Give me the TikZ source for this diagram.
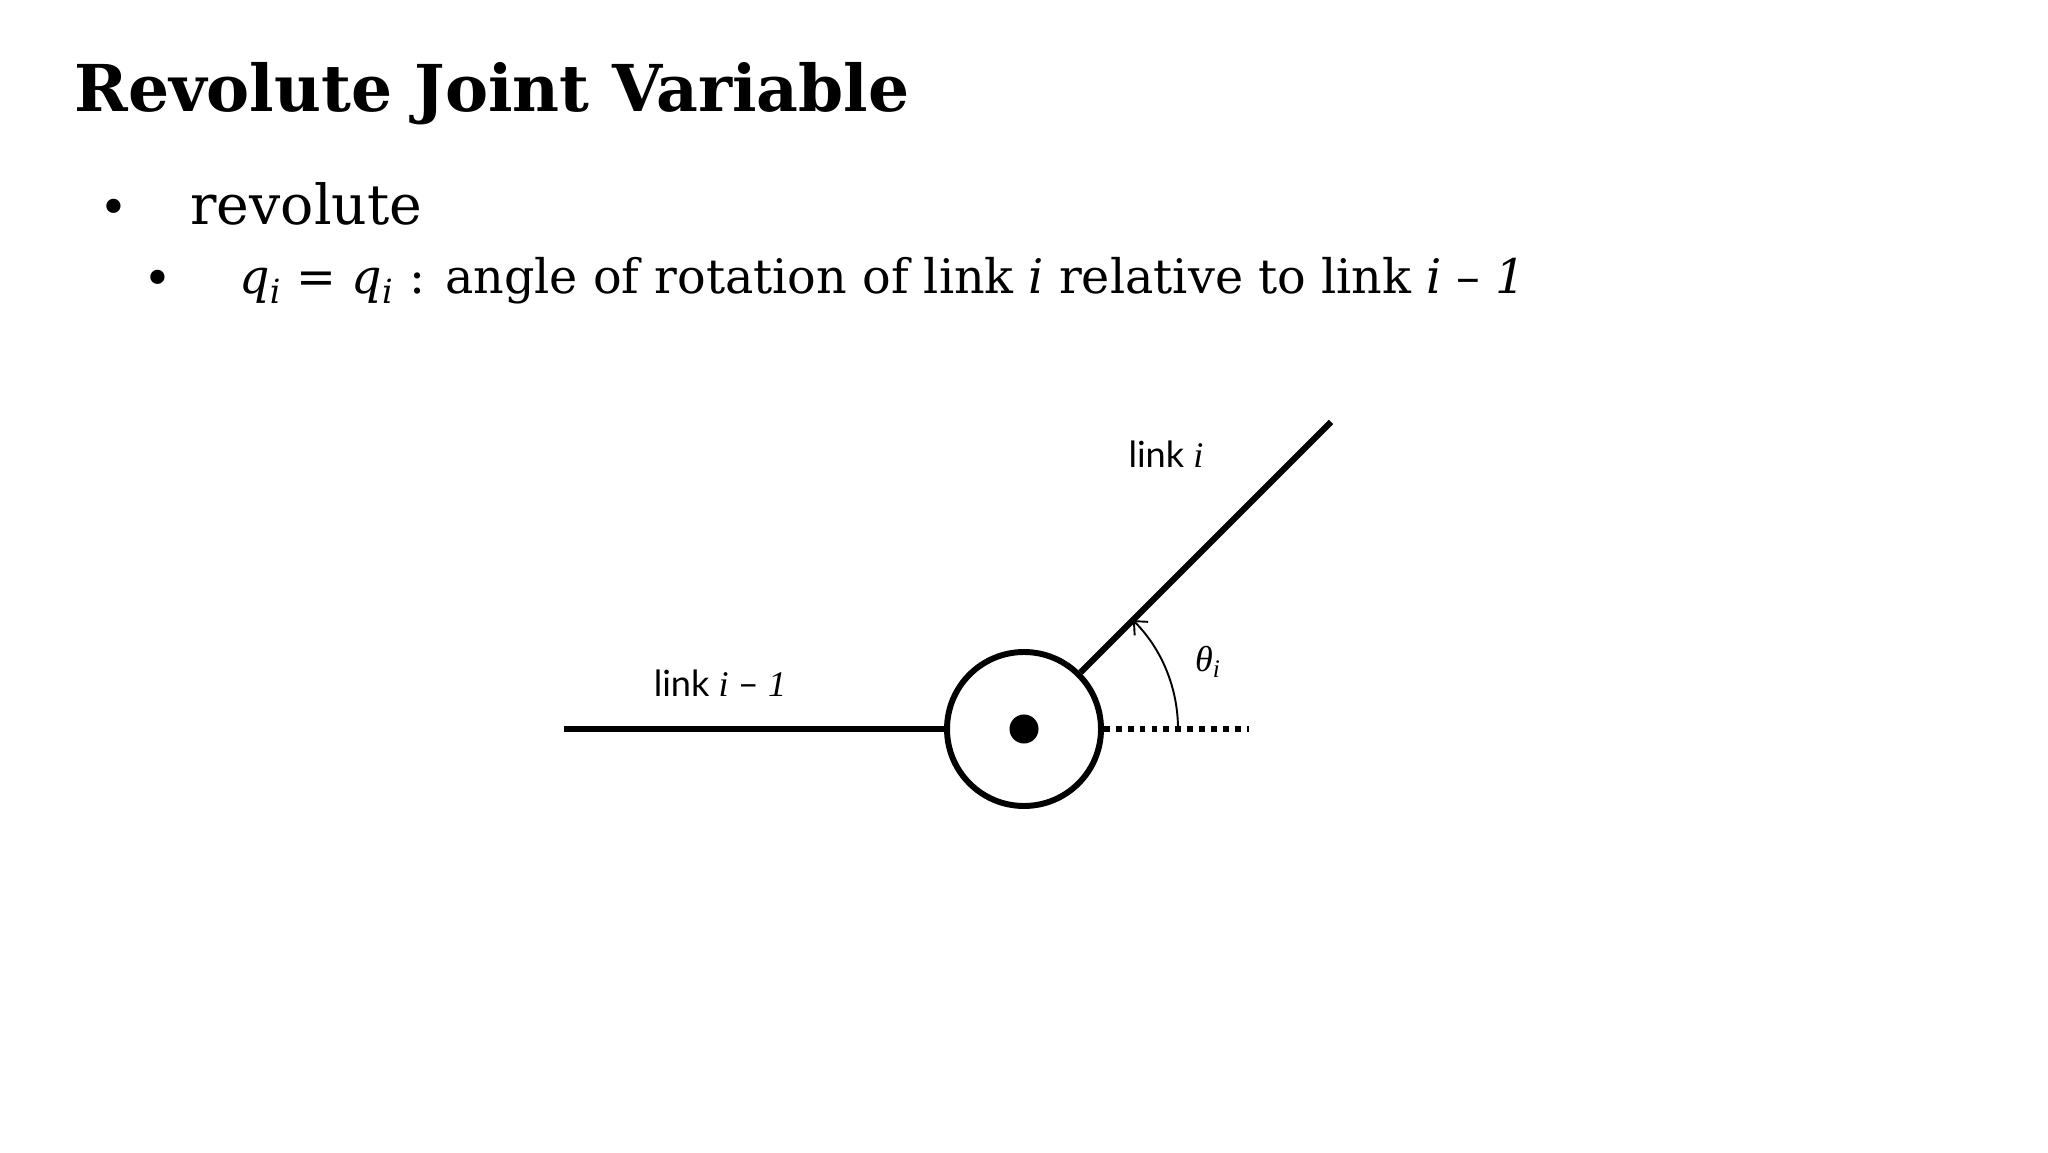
\documentclass[tikz,border=0pt]{standalone}
\usepackage{fontspec}
\setmainfont{DejaVu Serif}
\newfontfamily\labelfont{Lato}
\newfontfamily\symfont{Liberation Serif}
\usetikzlibrary{arrows.meta}
\begin{document}
\begin{tikzpicture}
[x=0.016536cm,y=0.016536cm,
  titledecorate/.style={anchor=base west,inner sep=0pt,font=\fontsize{30.4}{36}\selectfont\bfseries},%
  itemdecorate/.style={anchor=base west,inner sep=0pt},%
  bulletdecorate/.style={inner sep=0pt,font=\fontsize{23}{27}\selectfont},%
  labeldecorate/.style={inner sep=0pt,font=\fontsize{17}{20}\selectfont\labelfont},%
  jointdecorate/.style={shape=circle,draw,line width=2.8pt,minimum size=2.547cm,inner sep=0pt},%
  pindecorate/.style={shape=circle,fill,minimum size=0.48cm,inner sep=0pt},%
  linedecorate/.style={-,line width=2.9pt},%
  refdecorate/.style={-,line width=2.9pt,dash pattern=on 2.7pt off 2.9pt},%
  angledecorate/.style={-{Straight Barb[length=5pt,width=9pt]},line width=0.9pt}]
\useasboundingbox (0,0) rectangle (2048,1152);
%% title and bullets
\node (title) at (74,1040) [titledecorate] {Revolute Joint Variable};
\node (bullet1) at (114,940) [bulletdecorate] {•};
\node (item1) at (190,927) [itemdecorate,font=\fontsize{26}{31}\selectfont] {revolute};
\node (bullet2) at (158,869) [bulletdecorate] {•};
\node (item2) at (239,858) [itemdecorate,font=\fontsize{22.4}{26}\selectfont]
  {\textit{q}\textsubscript{\textit{i}} = \textit{q}\textsubscript{\textit{i}} : angle of rotation of link \textit{i} relative to link \textit{i} – \textit{1}};
%% joint
\node (joint) at (1024,423) [jointdecorate] {};
\node (pin) at (joint.center) [pindecorate] {};
\coordinate (prevend) at (564,423);
\coordinate (nextend) at (1331,730);
\coordinate (refend) at (1249,423);
\coordinate (arcstart) at (1178,423);
%% labels
\node (Lprev) at (720,469) [labeldecorate] {link {\symfont\itshape i} – {\symfont\itshape 1}};
\node (Lnext) at (1166,698) [labeldecorate] {link {\symfont\itshape i}};
\node (Ltheta) at (1208,490) [labeldecorate] {{\symfont\itshape θ}\textsubscript{\symfont\itshape i}};
%% links
\draw[linedecorate] (prevend) -- (joint.west);
\draw[linedecorate] (joint.45) -- (nextend);
\draw[refdecorate] (joint.east) -- (refend);
\draw[angledecorate] (arcstart) arc (0:45:154);
\end{tikzpicture}
\end{document}
